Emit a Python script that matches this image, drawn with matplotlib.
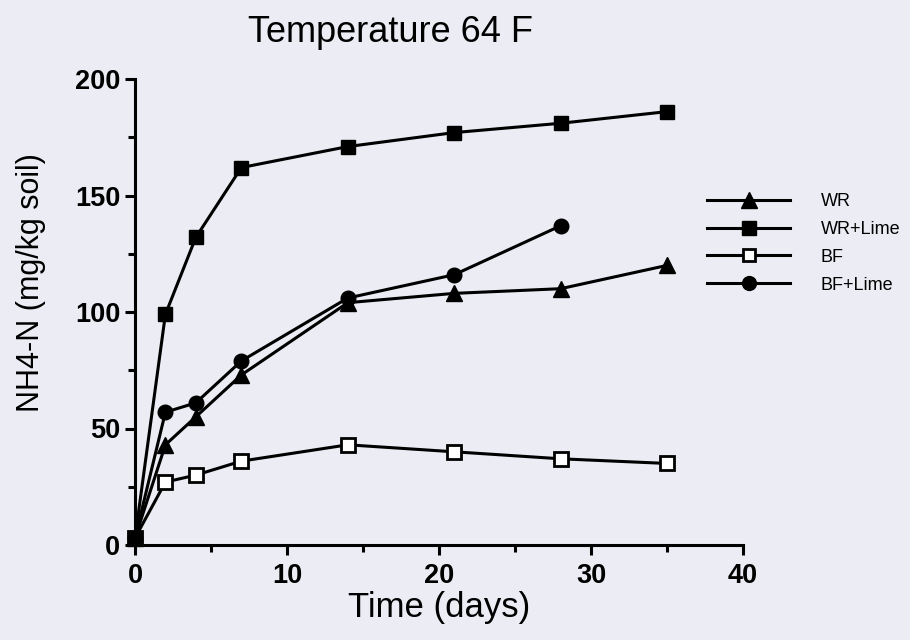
import matplotlib
matplotlib.use("Agg")
import matplotlib.pyplot as plt
from matplotlib.ticker import MultipleLocator

# ---- data ----
days = [0, 2, 4, 7, 14, 21, 28, 35]
wr = [3, 43, 55, 73, 104, 108, 110, 120]
wr_lime = [3, 99, 132, 162, 171, 177, 181, 186]
bf = [3, 27, 30, 36, 43, 40, 37, 35]
bf_lime_days = [0, 2, 4, 7, 14, 21, 28]
bf_lime = [3, 57, 61, 79, 106, 116, 137]
labels = ["WR", "WR+Lime", "BF", "BF+Lime"]
x_ticks = [0, 10, 20, 30, 40]
y_ticks = [0, 50, 100, 150, 200]

bg = "#ecedf4"
plt.rcParams['font.family'] = ['Liberation Sans', 'DejaVu Sans']

fig = plt.figure(figsize=(9.1, 6.4), dpi=100, facecolor=bg)
ax = fig.add_axes([135/910, 1-545/640, 608/910, 466/640], facecolor=bg)

lw = 2.2
common = dict(color="black", linewidth=lw, clip_on=False, zorder=3)
l1, = ax.plot(days, wr, marker="^", markersize=11.5, markerfacecolor="black",
              markeredgecolor="black", **common)
l2, = ax.plot(days, wr_lime, marker="s", markersize=10.5, markerfacecolor="black",
              markeredgecolor="black", **common)
l3, = ax.plot(days, bf, marker="s", markersize=9.5, markerfacecolor="white",
              markeredgecolor="black", markeredgewidth=2.0, **common)
l4, = ax.plot(bf_lime_days, bf_lime, marker="o", markersize=10.5, markerfacecolor="black",
              markeredgecolor="black", **common)

ax.set_xlim(0, 40)
ax.set_ylim(0, 200)
ax.set_xticks(x_ticks)
ax.set_xticklabels([str(t) for t in x_ticks])
ax.set_yticks(y_ticks)
ax.set_yticklabels([str(t) for t in y_ticks])
ax.xaxis.set_minor_locator(MultipleLocator(5))
ax.yaxis.set_minor_locator(MultipleLocator(25))

for s in ["top", "right"]:
    ax.spines[s].set_visible(False)
for s in ["left", "bottom"]:
    ax.spines[s].set_linewidth(2.2)

ax.tick_params(which="major", direction="out", length=7, width=2.2,
               labelsize=19.5)
ax.tick_params(axis="x", which="major", pad=6)
ax.tick_params(axis="y", which="major", pad=3.5)
ax.tick_params(which="minor", direction="out", length=5, width=2.2)
for lab in ax.get_xticklabels() + ax.get_yticklabels():
    lab.set_fontweight("bold")

ax.set_xlabel("Time (days)", fontsize=25)
ax.xaxis.set_label_coords(0.5, (545-591)/466)
ax.set_ylabel("NH4-N (mg/kg soil)", fontsize=22)
ax.yaxis.set_label_coords((46-135)/608, (545-283)/466)

fig.text(390/910, 1-42/640, "Temperature 64 F", fontsize=26, ha="center", va="baseline")

leg = fig.legend([l1, l2, l3, l4], labels, loc="upper left",
                 bbox_to_anchor=(707/910, 1-193/640), bbox_transform=fig.transFigure,
                 frameon=False, fontsize=13, handlelength=4.6, handletextpad=1.7,
                 labelspacing=0.6, borderpad=0, borderaxespad=0, markerscale=0.95)

fig.savefig("out.png", dpi=100, facecolor=bg)
